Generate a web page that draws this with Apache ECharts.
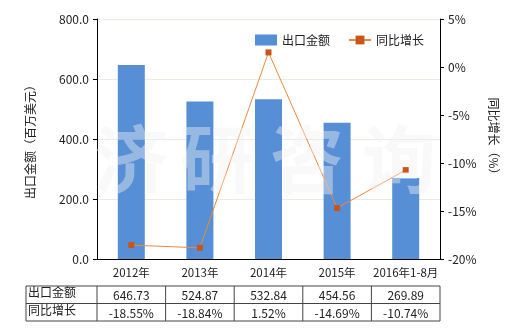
<!DOCTYPE html>
<html><head><meta charset="utf-8">
<script src="https://cdn.jsdelivr.net/npm/echarts@6/dist/echarts.min.js"></script>
<style>html,body{margin:0;padding:0;background:#fff}#c{width:520px;height:330px}</style>
</head><body><div id="c"></div>
<script>
const categories = ['2012年','2013年','2014年','2015年','2016年1-8月'];
const exportValues = [646.73, 524.87, 532.84, 454.56, 269.89];
const growthValues = [-18.55, -18.84, 1.52, -14.69, -10.74];
const exportLabels = ['646.73','524.87','532.84','454.56','269.89'];
const growthLabels = ['-18.55%','-18.84%','1.52%','-14.69%','-10.74%'];
const rowNames = ['出口金额','同比增长'];
const watermarkChars = ['济','研','咨','询'];

const FONT = '"Noto Sans CJK SC", "Noto Sans", sans-serif';
const chart = echarts.init(document.getElementById('c'), null, {renderer:'canvas'});
const option = {
  backgroundColor:'#fff',
  textStyle:{fontFamily:FONT},
  animation:false,
  grid:{left:97, right:80, top:19, bottom:71},
  legend:{
    top:29, left:250, itemGap:18, itemWidth:22, itemHeight:11,
    textStyle:{fontFamily:FONT, fontSize:12, color:'#222'},
    data:[{name:'出口金额', icon:'rect'},{name:'同比增长'}]
  },
  xAxis:{
    type:'category', data:categories,
    axisLine:{lineStyle:{color:'#000'}},
    axisTick:{alignWithLabel:true, length:4, lineStyle:{color:'#000'}},
    axisLabel:{interval:0, color:'#222', fontSize:11.5, margin:8, fontFamily:FONT}
  },
  yAxis:[{
    type:'value', min:0, max:800, interval:200,
    name:'出口金额（百万美元）', nameLocation:'middle', nameGap:61,
    nameTextStyle:{fontSize:12, color:'#222', fontFamily:FONT},
    axisLine:{show:true, lineStyle:{color:'#000'}},
    axisTick:{show:true, length:4, lineStyle:{color:'#000'}},
    axisLabel:{formatter:v=>v.toFixed(1), color:'#222', fontSize:12, fontFamily:FONT},
    splitLine:{lineStyle:{color:'#ebebe4'}}
  },{
    type:'value', min:-20, max:5, interval:5, position:'right',
    name:'同比增长（%）', nameLocation:'middle', nameGap:38, nameRotate:-90,
    nameTextStyle:{fontSize:12, color:'#222', fontFamily:FONT},
    axisLine:{show:true, lineStyle:{color:'#000'}},
    axisTick:{show:true, length:4, lineStyle:{color:'#000'}},
    axisLabel:{formatter:v=>v+'%', color:'#222', fontSize:12, fontFamily:FONT},
    splitLine:{show:false}
  }],
  series:[{
    name:'出口金额', type:'bar', data:exportValues, barWidth:27,
    itemStyle:{color:'#568fd6'}
  },{
    name:'同比增长', type:'line', yAxisIndex:1, data:growthValues,
    symbol:'rect', symbolSize:6,
    lineStyle:{color:'#f0883a', width:1},
    itemStyle:{color:'#c8541a'}
  }]
};
chart.setOption(option);

// table + watermark
const g = [];
const xs = categories.map((c,i)=>chart.convertToPixel({xAxisIndex:0}, i));
const step = xs[1]-xs[0];
const left = 26, firstCol = 97, right = xs[4]+step/2;
const rowY = [286, 303.5, 321];
const lineStyle = {stroke:'#444', lineWidth:1};
rowY.forEach(y=>g.push({type:'line', shape:{x1:left,y1:y,x2:right,y2:y}, style:lineStyle, silent:true}));
[left, firstCol].concat(xs.map(x=>x+step/2)).forEach(x=>g.push({type:'line', shape:{x1:x,y1:rowY[0],x2:x,y2:rowY[2]}, style:lineStyle, silent:true}));
rowNames.forEach((n,r)=>g.push({type:'text', left:left+2, top:(rowY[r]+rowY[r+1])/2-8,
  style:{text:n, fontSize:12, fill:'#222', fontFamily:FONT}}));
[exportLabels, growthLabels].forEach((arr,r)=>arr.forEach((t,i)=>g.push({type:'text', x:xs[i], y:(rowY[r]+rowY[r+1])/2+1,
  style:{text:t, fontSize:12, fill:'#222', fontFamily:FONT, align:'center', verticalAlign:'middle'}})));
// watermark
const wmX = [94, 180, 270, 362];
watermarkChars.forEach((ch,i)=>g.push({type:'text', x:wmX[i], y:122, z:100, silent:true,
  style:{text:ch, fontSize:74, fontWeight:'bold', fill:'rgba(240,240,240,0.42)', fontFamily:FONT}}));
chart.setOption({graphic:g});
</script></body></html>
